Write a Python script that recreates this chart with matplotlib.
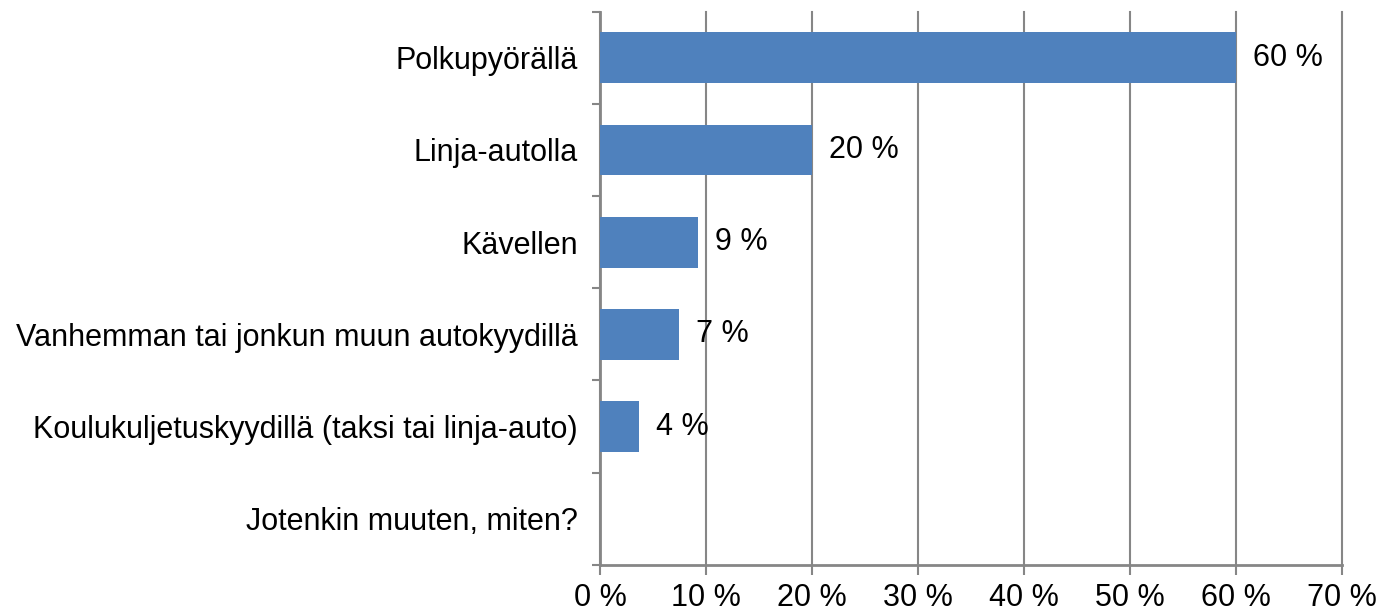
import numpy as np
import matplotlib
matplotlib.use("Agg")
import matplotlib.pyplot as plt
from matplotlib.ticker import FixedLocator

plt.rcParams['font.family'] = ['Liberation Sans', 'DejaVu Sans']

# answers, top to bottom
categories = ['Polkupyörällä', 'Linja-autolla', 'Kävellen',
              'Vanhemman tai jonkun muun autokyydillä',
              'Koulukuljetuskyydillä (taksi tai linja-auto)',
              'Jotenkin muuten, miten?']
values = [60.0, 20.0, 9.2, 7.4, 3.7, 0.0]
valueLabels = ['60 %', '20 %', '9 %', '7 %', '4 %', '']
xticks = [0, 10, 20, 30, 40, 50, 60, 70]

barColor = '#4F81BD'
gridColor = '#868686'

fig = plt.figure(figsize=(13.83, 6.16), dpi=100)
ax = fig.add_axes([0.434, 0.083, 0.536, 0.898])

ypos = np.arange(len(categories))
ax.barh(ypos, values, height=0.55, color=barColor, zorder=3)

# value labels to the right of each bar
for y, v, lab in zip(ypos, values, valueLabels):
	if lab:
		ax.text(v + 1.6, y, lab, va='center', ha='left', fontsize=22, zorder=4)

ax.set_xlim(0, 70)
ax.set_ylim(len(categories) - 0.5, -0.5)
ax.set_xticks(xticks)
ax.set_xticklabels([f'{t} %' for t in xticks], fontsize=22)
ax.set_yticks(ypos)
ax.set_yticklabels(categories, fontsize=22)
ax.tick_params(axis='y', length=0, pad=16)
ax.yaxis.set_minor_locator(FixedLocator(np.arange(-0.5, len(categories), 1.0)))
ax.tick_params(axis='y', which='minor', length=6, width=1.5, color=gridColor)
ax.tick_params(axis='x', length=7, width=1.5, color=gridColor, pad=6)

ax.grid(axis='x', color=gridColor, linewidth=1.5, zorder=0)
for gl in ax.get_xgridlines():
	gl.set_clip_on(False)
for side in ['top', 'right']:
	ax.spines[side].set_visible(False)
for side in ['left', 'bottom']:
	ax.spines[side].set_color(gridColor)
	ax.spines[side].set_linewidth(2)

fig.savefig('out.png', dpi=100)
